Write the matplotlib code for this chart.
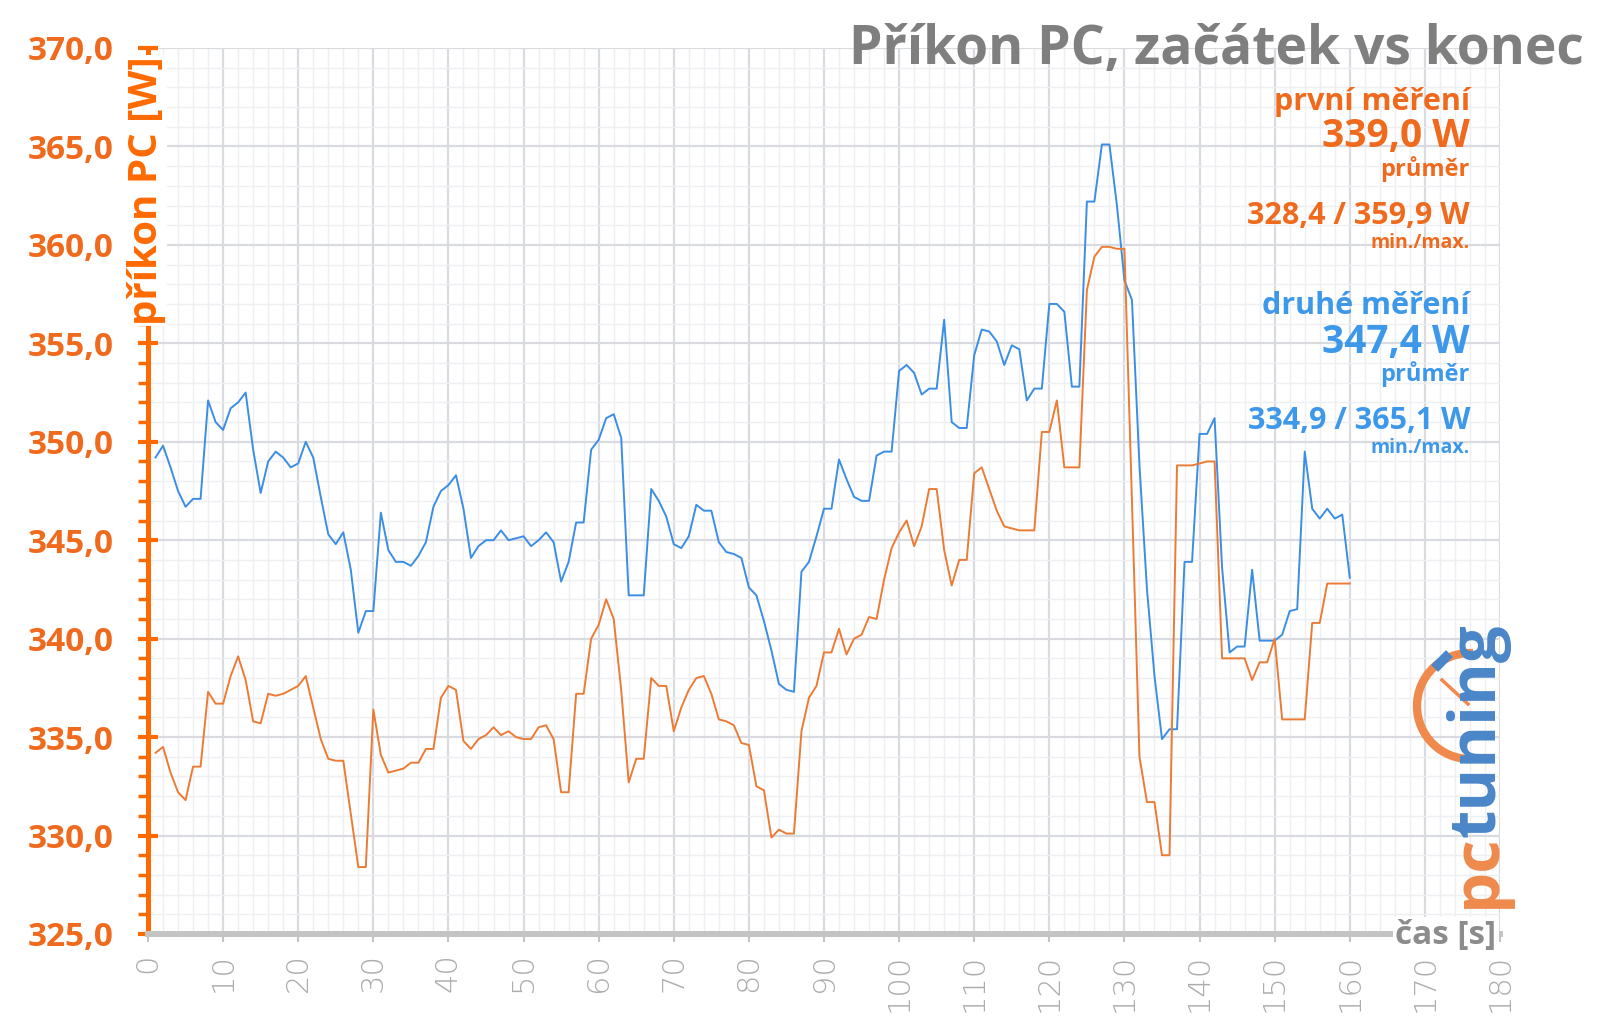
import matplotlib.pyplot as plt
from matplotlib.ticker import MultipleLocator, FuncFormatter
from matplotlib.patches import Arc
from matplotlib.lines import Line2D

plt.rcParams['font.family'] = ['Open Sans', 'DejaVu Sans']

# cas [s]
cas = list(range(1, 161))

# prvni mereni (zacatek)
prvni = [
    334.2, 334.5, 333.2, 332.2, 331.8, 333.5, 333.5, 337.3, 336.7, 336.7,
    338.1, 339.1, 337.9, 335.8, 335.7, 337.2, 337.1, 337.2, 337.4, 337.6,
    338.1, 336.5, 334.9, 333.9, 333.8, 333.8, 331.1, 328.4, 328.4, 336.4,
    334.1, 333.2, 333.3, 333.4, 333.7, 333.7, 334.4, 334.4, 337.0, 337.6,
    337.4, 334.8, 334.4, 334.9, 335.1, 335.5, 335.1, 335.3, 335.0, 334.9,
    334.9, 335.5, 335.6, 334.9, 332.2, 332.2, 337.2, 337.2, 340.0, 340.7,
    342.0, 341.0, 337.4, 332.7, 333.9, 333.9, 338.0, 337.6, 337.6, 335.3,
    336.5, 337.4, 338.0, 338.1, 337.2, 335.9, 335.8, 335.6, 334.7, 334.6,
    332.5, 332.3, 329.9, 330.3, 330.1, 330.1, 335.3, 337.0, 337.6, 339.3,
    339.3, 340.5, 339.2, 340.0, 340.2, 341.1, 341.0, 343.0, 344.6, 345.4,
    346.0, 344.7, 345.7, 347.6, 347.6, 344.5, 342.7, 344.0, 344.0, 348.4,
    348.7, 347.6, 346.5, 345.7, 345.6, 345.5, 345.5, 345.5, 350.5, 350.5,
    352.1, 348.7, 348.7, 348.7, 357.7, 359.4, 359.9, 359.9, 359.8, 359.8,
    347.0, 334.0, 331.7, 331.7, 329.0, 329.0, 348.8, 348.8, 348.8, 348.9,
    349.0, 349.0, 339.0, 339.0, 339.0, 339.0, 337.9, 338.8, 338.8, 340.0,
    335.9, 335.9, 335.9, 335.9, 340.8, 340.8, 342.8, 342.8, 342.8, 342.8,
]

# druhe mereni (konec)
druhe = [
    349.2, 349.8, 348.7, 347.5, 346.7, 347.1, 347.1, 352.1, 351.0, 350.6,
    351.7, 352.0, 352.5, 349.6, 347.4, 349.0, 349.5, 349.2, 348.7, 348.9,
    350.0, 349.2, 347.2, 345.3, 344.8, 345.4, 343.5, 340.3, 341.4, 341.4,
    346.4, 344.5, 343.9, 343.9, 343.7, 344.2, 344.9, 346.7, 347.5, 347.8,
    348.3, 346.6, 344.1, 344.7, 345.0, 345.0, 345.5, 345.0, 345.1, 345.2,
    344.7, 345.0, 345.4, 344.9, 342.9, 343.9, 345.9, 345.9, 349.6, 350.1,
    351.2, 351.4, 350.2, 342.2, 342.2, 342.2, 347.6, 347.0, 346.2, 344.8,
    344.6, 345.2, 346.8, 346.5, 346.5, 344.9, 344.4, 344.3, 344.1, 342.6,
    342.2, 340.9, 339.4, 337.7, 337.4, 337.3, 343.4, 343.9, 345.2, 346.6,
    346.6, 349.1, 348.1, 347.2, 347.0, 347.0, 349.3, 349.5, 349.5, 353.6,
    353.9, 353.5, 352.4, 352.7, 352.7, 356.2, 351.0, 350.7, 350.7, 354.4,
    355.7, 355.6, 355.1, 353.9, 354.9, 354.7, 352.1, 352.7, 352.7, 357.0,
    357.0, 356.6, 352.8, 352.8, 362.2, 362.2, 365.1, 365.1, 362.0, 358.2,
    357.2, 348.8, 342.5, 338.1, 334.9, 335.4, 335.4, 343.9, 343.9, 350.4,
    350.4, 351.2, 343.6, 339.3, 339.6, 339.6, 343.5, 339.9, 339.9, 339.9,
    340.2, 341.4, 341.5, 349.5, 346.6, 346.1, 346.6, 346.1, 346.3, 343.1,
]

popisky = [
    ('první měření', 102, 22, 'o'),
    ('339,0 W', 136, 28, 'o'),
    ('průměr', 169, 17, 'o'),
    ('328,4 / 359,9 W', 216, 22, 'o'),
    ('min./max.', 243, 14, 'o'),
    ('druhé měření', 306, 22, 'b'),
    ('347,4 W', 342, 28, 'b'),
    ('průměr', 374, 17, 'b'),
    ('334,9 / 365,1 W', 421, 22, 'b'),
    ('min./max.', 448, 14, 'b'),
]

W, H = 1600, 1017
ORANGE = '#f06a1e'
AXIS_OR = '#ff6a00'
LINE_OR = '#ec7b35'
BLUE = '#3d98ea'
LINE_BL = '#3b8ee4'
GRAY = '#7f7f7f'
LOGO_OR = '#ef8a4c'
LOGO_BL = '#4a86c8'


def fx(x):
    return x / W


def fy(y):
    return 1 - y / H


fig = plt.figure(figsize=(16, 10.17), dpi=100)
ax = fig.add_axes([fx(148), fy(934), fx(1500 - 148), (934 - 48) / H])

ax.plot(cas, druhe, color=LINE_BL, lw=1.4, zorder=3)
ax.plot(cas, prvni, color=LINE_OR, lw=1.4, zorder=3)

ax.set_xlim(0, 180)
ax.set_ylim(325, 370)
ax.xaxis.set_major_locator(MultipleLocator(10))
ax.xaxis.set_minor_locator(MultipleLocator(2))
ax.yaxis.set_major_locator(MultipleLocator(5))
ax.yaxis.set_minor_locator(MultipleLocator(1))
ax.yaxis.set_major_formatter(FuncFormatter(lambda v, p: f'{v:.1f}'.replace('.', ',')))

ax.grid(which='major', color='#d9dbe0', lw=1.6, zorder=0)
ax.grid(which='minor', color='#eeeff2', lw=1.0, zorder=0)
ax.set_axisbelow(True)

for s in ['top', 'right']:
    ax.spines[s].set_visible(False)
ax.spines['left'].set_color(AXIS_OR)
ax.spines['left'].set_linewidth(3.6)
ax.spines['bottom'].set_color('#c4c4c4')
ax.spines['bottom'].set_linewidth(4.3)

ax.tick_params(axis='y', which='major', direction='inout', length=14, width=3,
               color=AXIS_OR, labelcolor=ORANGE, labelsize=24, pad=18)
ax.tick_params(axis='y', which='minor', direction='out', length=7, width=2.5,
               color=AXIS_OR)
for lab in ax.get_yticklabels():
    lab.set_fontweight('bold')
ax.tick_params(axis='x', which='major', direction='out', length=6, width=1.5,
               color='#c4c4c4', labelcolor='#adadad', labelsize=22, pad=8,
               labelrotation=90)
ax.tick_params(axis='x', which='minor', length=0)
for lab in ax.get_xticklabels():
    lab.set_fontfamily('DejaVu Sans')
    lab.set_fontweight('light')

# titulek
fig.text(fx(1584), fy(50), 'Příkon PC, začátek vs konec', ha='right', va='center',
         fontsize=38.5, fontweight='bold', color=GRAY)

# popisek osy y
fig.text(fx(146), fy(56), 'příkon PC [W]', rotation=90, ha='center', va='top',
         fontsize=29, fontweight='bold', color=AXIS_OR,
         bbox=dict(facecolor='white', edgecolor='none', pad=1))

# popisek osy x
fig.text(fx(1446), fy(936), 'čas [s]', ha='center', va='center',
         fontsize=24, fontweight='bold', color='#8c8c8c',
         bbox=dict(facecolor='white', edgecolor='none', pad=2))

# prumery a min/max
for txt, y, size, c in popisky:
    fig.text(fx(1470), fy(y), txt, ha='right', va='center', fontsize=size,
             fontweight='bold', color=ORANGE if c == 'o' else BLUE)

# logo
arc = Arc((fx(1470), fy(706)), 2 * 53 / W, 2 * 53 / H, theta1=88, theta2=272,
          transform=fig.transFigure, color=LOGO_OR, lw=6, zorder=4)
fig.add_artist(arc)
fig.add_artist(Line2D([fx(1468), fx(1442)], [fy(704), fy(680)],
                      transform=fig.transFigure, color=LOGO_OR, lw=2.5, zorder=4))
fig.add_artist(Line2D([fx(1438), fx(1446)], [fy(665), fy(657)],
                      transform=fig.transFigure, color=LOGO_BL, lw=7, zorder=4))
pc = fig.text(fx(1478), fy(908), 'pc', rotation=90, ha='center', va='bottom',
              fontsize=47, fontweight='bold', color=LOGO_OR, zorder=5)
fig.canvas.draw()
bb = pc.get_window_extent()
fig.text(fx(1478), bb.y1 / H - 4 / H, 'tuning', rotation=90, ha='center', va='bottom',
         fontsize=47, fontweight='bold', color=LOGO_BL, zorder=5)

fig.savefig('out.png', dpi=100)
